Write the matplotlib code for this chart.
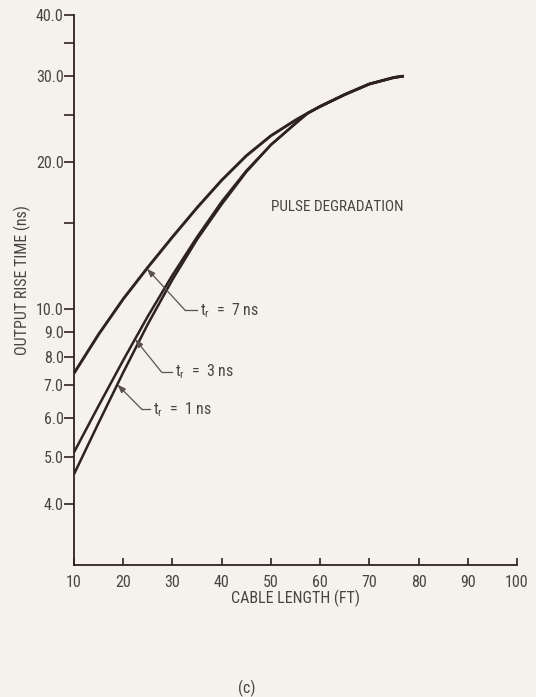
import matplotlib
matplotlib.use("Agg")
import matplotlib.pyplot as plt
import numpy as np
from matplotlib import font_manager as fm
from matplotlib.ticker import FixedLocator, FixedFormatter, NullFormatter


def have(name):
    try:
        fm.findfont(fm.FontProperties(family=name), fallback_to_default=False)
        return True
    except Exception:
        return False


candidates = ['Liberation Sans Narrow', 'Roboto Condensed', 'DejaVu Sans Condensed', 'Liberation Sans']
chosen = next((c for c in candidates if have(c)), 'DejaVu Sans')
narrow = chosen in ('Liberation Sans Narrow', 'Roboto Condensed')
plt.rcParams['font.family'] = [chosen, 'DejaVu Sans']
plt.rcParams['mathtext.fontset'] = 'custom'
plt.rcParams['mathtext.rm'] = chosen
plt.rcParams['mathtext.it'] = chosen

# ---------------- data ----------------
cable_length = [10, 15, 20, 25, 30, 35, 40, 45, 50, 55, 57.5, 60, 65, 70, 75, 77]
rise_7ns = [7.40, 8.89, 10.50, 12.19, 14.06, 16.14, 18.37, 20.61, 22.65, 24.38, 25.2, 26.0, 27.5, 28.9, 29.8, 30.0]
rise_3ns = [5.10, 6.35, 7.87, 9.68, 11.75, 14.06, 16.60, 19.20, 21.70, 24.00, 25.2, 26.0, 27.5, 28.9, 29.8, 30.0]
rise_1ns = [4.60, 5.86, 7.43, 9.33, 11.50, 13.90, 16.40, 19.10, 21.70, 24.00, 25.2, 26.0, 27.5, 28.9, 29.8, 30.0]

series_labels = ["7", "3", "1"]

y_major = [4, 5, 6, 7, 8, 9, 10, 20, 30, 40]
y_major_labels = ["4.0", "5.0", "6.0", "7.0", "8.0", "9.0", "10.0", "20.0", "30.0", "40.0"]
y_minor = [15, 25, 35]
x_ticks = [10, 20, 30, 40, 50, 60, 70, 80, 90, 100]
x_tick_labels = ["10", "20", "30", "40", "50", "60", "70", "80", "90", "100"]

# annotation geometry (data coords): arrow-tip x on curve, kink (x, y), end of horizontal leader x
annot_tip_x = [24.8, 22.4, 18.8]
annot_kink = [(32.6, 9.95), (27.8, 7.44), (23.8, 6.24)]
annot_end_x = [34.9, 29.9, 25.4]

# ---------------- style ----------------
bg = "#f5f2ec"
ink = "#2e2122"
txt = "#4a4343"
tick_fs = 11.5 if narrow else 10.5
lab_fs = 11.5 if narrow else 10
title_fs = 11 if narrow else 10

W, H = 536, 697
fig = plt.figure(figsize=(W / 100, H / 100), dpi=100, facecolor=bg)
ax = fig.add_axes([74 / W, 1 - 565 / H, (517 - 74) / W, (565 - 15) / H])
ax.set_facecolor(bg)

ax.set_yscale('log')
ax.set_xlim(10, 100)
ax.set_ylim(3, 40)

curves = [rise_7ns, rise_3ns, rise_1ns]
lws = [2.1, 1.8, 1.8]
for ys, lw in zip(curves, lws):
    ax.plot(cable_length, ys, color=ink, lw=lw, solid_capstyle='butt',
            solid_joinstyle='round', zorder=3)

# annotations
for ys, lab, tx, (kx, ky), ex in zip(curves, series_labels, annot_tip_x, annot_kink, annot_end_x):
    ty = 10 ** np.interp(tx, cable_length, np.log10(ys))
    ax.annotate("", xy=(tx, ty), xytext=(kx, ky),
                arrowprops=dict(arrowstyle='-|>,head_length=0.5,head_width=0.18',
                                color="#5a5050", lw=0.9, shrinkA=0, shrinkB=0), zorder=4)
    ax.plot([kx, ex], [ky, ky], color="#5a5050", lw=0.9, zorder=4)
    ax.text(ex + 0.6, ky, "t$_{\\mathregular{r}}$  =  " + lab + " ns", color=txt,
            fontsize=lab_fs, ha='left', va='center')

ax.text(63.5, 16.2, "PULSE DEGRADATION", color=txt, fontsize=title_fs, ha='center', va='center')

# axes styling
for s in ['top', 'right']:
    ax.spines[s].set_visible(False)
for s in ['left', 'bottom']:
    ax.spines[s].set_color(ink)
    ax.spines[s].set_linewidth(1.3)

ax.yaxis.set_major_locator(FixedLocator(y_major))
ax.yaxis.set_major_formatter(FixedFormatter(y_major_labels))
ax.yaxis.set_minor_locator(FixedLocator(y_minor))
ax.yaxis.set_minor_formatter(NullFormatter())
ax.tick_params(axis='y', which='both', direction='out', length=7, width=1.2,
               color=ink, labelcolor=txt, labelsize=tick_fs, pad=0.5)

ax.xaxis.set_major_locator(FixedLocator(x_ticks))
ax.xaxis.set_major_formatter(FixedFormatter(x_tick_labels))
ax.xaxis.set_minor_locator(FixedLocator([]))
ax.tick_params(axis='x', which='both', direction='in', length=5, width=1.2,
               color=ink, labelcolor=txt, labelsize=tick_fs, pad=7)

ax.set_xlabel("CABLE LENGTH (FT)", color=txt, fontsize=lab_fs, labelpad=0)
fig.text(22 / W, 1 - 280 / H, "OUTPUT RISE TIME (ns)", rotation=90, color=txt,
         fontsize=lab_fs, ha='center', va='center')
fig.text(247 / W, 1 - 688 / H, "(c)", color=txt, fontsize=lab_fs, ha='center', va='center')

fig.savefig("out.png", dpi=100, facecolor=bg)
